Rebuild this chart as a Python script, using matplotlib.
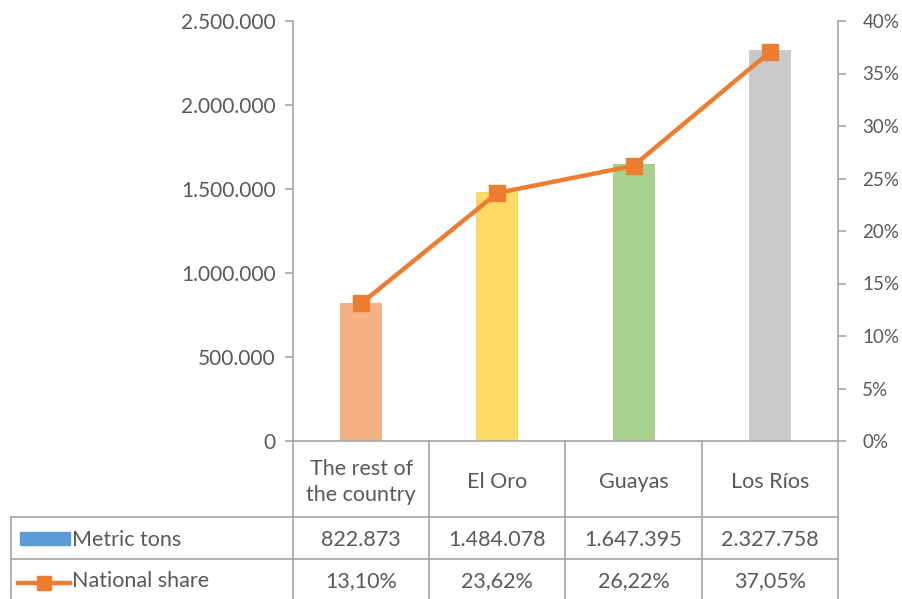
import matplotlib.pyplot as plt
from matplotlib.lines import Line2D
from matplotlib.patches import Rectangle
from matplotlib.ticker import FuncFormatter

plt.rcParams['font.family'] = ['Lato', 'DejaVu Sans']

# Banana production by province
regions = ['The rest of\nthe country', 'El Oro', 'Guayas', 'Los Ríos']
metric_tons = [822873, 1484078, 1647395, 2327758]
national_share = [13.10, 23.62, 26.22, 37.05]

bar_colors = ['#F4B183', '#FFD966', '#A9D18E', '#C9C9C9']
line_color = '#ED7D31'
axis_color = '#A6A6A6'
text_color = '#595959'

W, H = 903, 599


def thousands(v):
    return f'{int(round(v)):,}'.replace(',', '.')


def percent(v, decimals=2):
    return f'{v:.{decimals}f}'.replace('.', ',') + '%'


fig = plt.figure(figsize=(W / 100, H / 100), dpi=100)

# plot area in pixel terms
left, right, top, bottom = 293, 838, 21, 441
ax = fig.add_axes([left / W, 1 - bottom / H, (right - left) / W, (bottom - top) / H])
x = list(range(len(regions)))
ax.bar(x, metric_tons, width=0.31, color=bar_colors, zorder=2)
ax.set_xlim(-0.5, len(regions) - 0.5)
ax.set_ylim(0, 2500000)
ax.set_yticks(range(0, 2500001, 500000))
ax.yaxis.set_major_formatter(FuncFormatter(lambda v, p: thousands(v)))
ax.set_xticks([])

ax2 = ax.twinx()
ax2.plot(x, national_share, color=line_color, lw=3.2, marker='s', ms=11,
         zorder=3)
ax2.set_ylim(0, 40)
ax2.set_yticks(range(0, 41, 5))
ax2.yaxis.set_major_formatter(FuncFormatter(lambda v, p: f'{int(v)}%'))

for a in (ax, ax2):
    for s in a.spines.values():
        s.set_visible(False)
    a.tick_params(colors=axis_color, labelcolor=text_color,
                  length=6, width=1.2)
    a.patch.set_visible(False)
for a, side in ((ax, 'left'), (ax, 'bottom'), (ax2, 'right')):
    a.spines[side].set_visible(True)
    a.spines[side].set_color(axis_color)
    a.spines[side].set_linewidth(1.2)
ax.tick_params(axis='y', pad=6.5, labelsize=15)
ax2.tick_params(axis='y', pad=11.5, labelsize=13.5)
ax2.set_zorder(ax.get_zorder() + 1)

# data table below the plot, drawn in pixel coordinates
tab = fig.add_axes([0, 0, 1, 1])
tab.set_xlim(0, W)
tab.set_ylim(H, 0)
tab.axis('off')

col_w = (right - left) / len(regions)
edges = [left + i * col_w for i in range(len(regions) + 1)]
row1, row2, table_left = 517, 559, 11
lkw = dict(color=axis_color, lw=1.2)

for e in edges:
    tab.add_line(Line2D([e, e], [bottom, H + 5], **lkw))
tab.add_line(Line2D([table_left, table_left], [row1, H + 5], **lkw))
for r in (row1, row2):
    tab.add_line(Line2D([table_left, right], [r, r], **lkw))

fs = 15.5
for i, name in enumerate(regions):
    cx = edges[i] + col_w / 2
    tab.text(cx, (bottom + row1) / 2 + 3, name, ha='center', va='center',
             fontsize=fs, color=text_color, linespacing=1.4)
    tab.text(cx, (row1 + row2) / 2 + 2, thousands(metric_tons[i]),
             ha='center', va='center', fontsize=fs, color=text_color)
    tab.text(cx, (row2 + H) / 2 + 2, percent(national_share[i]),
             ha='center', va='center', fontsize=fs, color=text_color)

# legend keys inside the table
tab.add_patch(Rectangle((20, 532), 50, 13, color='#5B9BD5'))
tab.text(72, (row1 + row2) / 2 + 2, 'Metric tons', ha='left', va='center',
         fontsize=fs, color=text_color)
tab.add_line(Line2D([18, 44, 70], [583, 583, 583], color=line_color, lw=3.2,
                    marker='s', ms=10, markevery=[1]))
tab.text(72, (row2 + H) / 2 + 2, 'National share', ha='left', va='center',
         fontsize=fs, color=text_color)

fig.savefig('out.png', dpi=100)
